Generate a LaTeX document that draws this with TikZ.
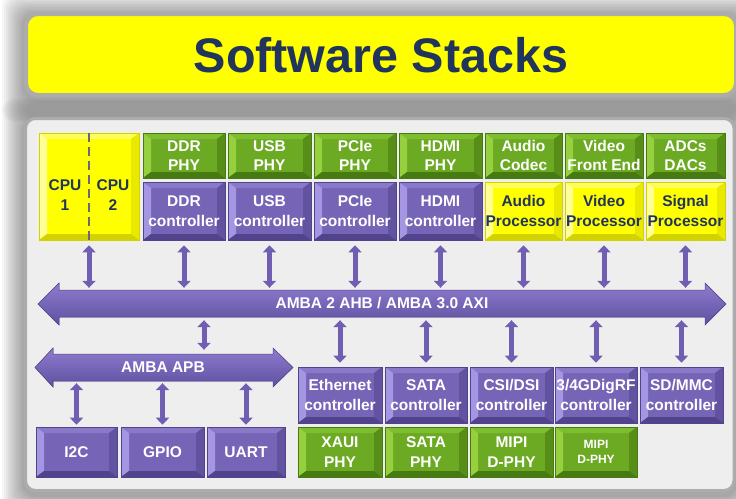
\documentclass[tikz,border=0pt]{standalone}
\usepackage{fontspec}
\setmainfont{Liberation Sans}
\usetikzlibrary{arrows.meta}
\definecolor{navy}{RGB}{33,52,92}
\definecolor{pBase}{RGB}{118,100,182}
\definecolor{pLeft}{RGB}{165,150,228}
\definecolor{pTop}{RGB}{138,121,200}
\definecolor{pRight}{RGB}{98,82,160}
\definecolor{pBot}{RGB}{82,68,140}
\definecolor{gBase}{RGB}{108,170,36}
\definecolor{gLeft}{RGB}{150,208,62}
\definecolor{gTop}{RGB}{126,188,48}
\definecolor{gRight}{RGB}{86,142,24}
\definecolor{gBot}{RGB}{72,122,18}
\definecolor{yBase}{RGB}{255,255,0}
\definecolor{yLeft}{RGB}{255,255,150}
\definecolor{yTop}{RGB}{252,252,90}
\definecolor{yRight}{RGB}{232,232,0}
\definecolor{yBot}{RGB}{210,210,0}
\definecolor{arrowc}{RGB}{112,94,178}
\definecolor{busLight}{RGB}{142,124,206}
\definecolor{busDark}{RGB}{96,80,160}
\definecolor{panelfill}{RGB}{238,238,238}
\definecolor{panelline}{RGB}{172,172,172}
\definecolor{dashc}{RGB}{105,105,115}

\newcommand{\bevdraw}[4]{%
  \coordinate (bNW) at (path picture bounding box.north west);
  \coordinate (bNE) at (path picture bounding box.north east);
  \coordinate (bSW) at (path picture bounding box.south west);
  \coordinate (bSE) at (path picture bounding box.south east);
  \fill[#2] (bNW) -- (bNE) -- ([shift={(-8pt,-6pt)}]bNE) -- ([shift={(8pt,-6pt)}]bNW) -- cycle;
  \fill[#1] (bNW) -- ([shift={(8pt,-6pt)}]bNW) -- ([shift={(8pt,6pt)}]bSW) -- (bSW) -- cycle;
  \fill[#3] (bNE) -- (bSE) -- ([shift={(-8pt,6pt)}]bSE) -- ([shift={(-8pt,-6pt)}]bNE) -- cycle;
  \fill[#4] (bSW) -- ([shift={(8pt,6pt)}]bSW) -- ([shift={(-8pt,6pt)}]bSE) -- (bSE) -- cycle;
}

\newcommand{\bx}[7]{%
  \pgfmathsetmacro\cx{(#3+#5)/2}\pgfmathsetmacro\cy{(#4+#6)/2}%
  \pgfmathsetmacro\ww{#5-#3}\pgfmathsetmacro\hh{#6-#4}%
  \node[#1, minimum width=\ww pt, minimum height=\hh pt] (#2) at (\cx,\cy) {#7};
}

\tikzset{
  boxtext/.style={font=\bfseries\fontsize{15.5}{19.5}\selectfont, align=center, inner sep=0pt},
  greenbox/.style={boxtext, fill=gBase, draw=gBot, line width=0.6pt, text=white,
    path picture={\bevdraw{gLeft}{gTop}{gRight}{gBot}}},
  purplebox/.style={boxtext, fill=pBase, draw=pBot, line width=0.6pt, text=white,
    path picture={\bevdraw{pLeft}{pTop}{pRight}{pBot}}},
  yellowbox/.style={boxtext, fill=yBase, draw=yBot, line width=0.6pt, text=navy,
    path picture={\bevdraw{yLeft}{yTop}{yRight}{yBot}}},
  varrow/.style={draw=arrowc, line width=5pt,
    {Triangle[width=13pt,length=7pt]}-{Triangle[width=13pt,length=7pt]}},
  busfill/.style={top color=busLight, bottom color=busDark, draw=pBot, line width=0.5pt},
  bustext/.style={font=\bfseries\fontsize{15.5}{18}\selectfont, text=white, inner sep=0pt},
}

\begin{document}
\begin{tikzpicture}[x=1pt,y=-1pt]
\useasboundingbox (0,0) rectangle (736,498);
\fill[white] (0,0) rectangle (736,498);

% soft shadows
\foreach \i in {1,...,11} {
  \fill[black, opacity=0.036, rounded corners=14pt]
    ({24-\i*2},{12-\i*2+3}) rectangle ({738+\i*2},{97+\i*2+3});
  \fill[black, opacity=0.036, rounded corners=14pt]
    ({24-\i*2},{117-\i*2+3}) rectangle ({736+\i*2},{492+\i*2+3});
}

% title banner
\draw[draw=panelline, line width=4pt, fill=yBase, rounded corners=12pt] (26,14) rectangle (736,95);
\node[font=\bfseries\fontsize{48.5}{50}\selectfont, text=navy] (title) at (381,55) {Software Stacks};

% main panel
\draw[draw=panelline, line width=3pt, fill=panelfill, rounded corners=10pt] (25.5,118.5) rectangle (734,490.5);

% CPU block
\bx{yellowbox}{cpu}{39}{133}{139}{240}{}
\draw[dashc, line width=2pt, dash pattern=on 9pt off 5pt] (cpu.north) -- (cpu.south);
\node[boxtext, text=navy] (cpuone) at (65,195) {CPU\\1};
\node[boxtext, text=navy] (cputwo) at (113,195) {CPU\\2};

% top row
\bx{greenbox}{ddrphy}{143}{133}{225}{178}{DDR\\PHY}
\bx{greenbox}{usbphy}{228}{133}{311}{178}{USB\\PHY}
\bx{greenbox}{pciephy}{314}{133}{396}{178}{PCIe\\PHY}
\bx{greenbox}{hdmiphy}{399}{133}{482}{178}{HDMI\\PHY}
\bx{greenbox}{audcodec}{485}{133}{562}{178}{Audio\\Codec}
\bx{greenbox}{vidfe}{565}{133}{643}{178}{Video\\Front End}
\bx{greenbox}{adc}{646}{133}{725}{178}{ADCs\\DACs}

\bx{purplebox}{ddrc}{143}{182}{225}{240}{DDR\\controller}
\bx{purplebox}{usbc}{228}{182}{311}{240}{USB\\controller}
\bx{purplebox}{pciec}{314}{182}{396}{240}{PCIe\\controller}
\bx{purplebox}{hdmic}{399}{182}{482}{240}{HDMI\\controller}
\bx{yellowbox}{audp}{485}{182}{562}{240}{Audio\\Processor}
\bx{yellowbox}{vidp}{565}{182}{643}{240}{Video\\Processor}
\bx{yellowbox}{sigp}{646}{182}{725}{240}{Signal\\Processor}

% AHB bus
\fill[busfill] (38,304) -- (59,283) -- (59,290) -- (705,290) -- (705,283) -- (726,304)
  -- (705,325) -- (705,317) -- (59,317) -- (59,325) -- cycle;
\node[bustext, minimum width=646pt, minimum height=27pt] (ahb) at (382,303.5) {AMBA 2 AHB / AMBA 3.0 AXI};

% APB bus
\fill[busfill] (35,367.5) -- (53,348) -- (53,354) -- (273,354) -- (273,348) -- (293,367.5)
  -- (273,387) -- (273,381) -- (53,381) -- (53,387) -- cycle;
\node[bustext, minimum width=220pt, minimum height=27pt] (apb) at (163,367.5) {AMBA APB};

% lower right blocks
\bx{purplebox}{ethc}{298}{367}{382}{423}{Ethernet\\controller}
\bx{purplebox}{satac}{385}{367}{467}{423}{SATA\\controller}
\bx{purplebox}{csic}{470}{367}{553}{423}{CSI/DSI\\controller}
\bx{purplebox}{rfc}{555}{367}{637}{423}{3/4GDigRF\\controller}
\bx{purplebox}{sdc}{640}{367}{723}{423}{SD/MMC\\controller}

\bx{greenbox}{xaui}{298}{427}{382}{477}{XAUI\\PHY}
\bx{greenbox}{sataphy}{385}{427}{467}{477}{SATA\\PHY}
\bx{greenbox}{mipione}{470}{427}{553}{477}{MIPI\\D-PHY}
\bx{greenbox, font=\bfseries\fontsize{12}{15}\selectfont}{mipitwo}{555}{427}{637}{477}{MIPI\\D-PHY}

% lower left blocks
\bx{purplebox}{itwoc}{36}{427}{117}{477}{I2C}
\bx{purplebox}{gpio}{121}{427}{204}{477}{GPIO}
\bx{purplebox}{uart}{207}{427}{285}{477}{UART}

% arrows: top row <-> AHB
\foreach \n in {cpu,ddrc,usbc,pciec,hdmic,audp,vidp,sigp}
  \draw[varrow] ([yshift=-5pt]\n.south) -- ([yshift=2pt]\n.south |- ahb.north);

% arrows: AHB <-> lower right controllers
\foreach \n in {ethc,satac,csic,rfc,sdc}
  \draw[varrow] ([yshift=-3pt]ahb.south -| \n.north) -- ([yshift=4pt]\n.north);

% AHB <-> APB
\coordinate (tap) at (204,354);
\draw[varrow] ([yshift=-3pt]ahb.south -| tap) -- ([yshift=4pt]apb.north -| tap);

% APB <-> peripherals
\foreach \n in {itwoc,gpio,uart}
  \draw[varrow] ([yshift=-2pt]apb.south -| \n.north) -- ([yshift=2pt]\n.north);
\end{tikzpicture}
\end{document}
